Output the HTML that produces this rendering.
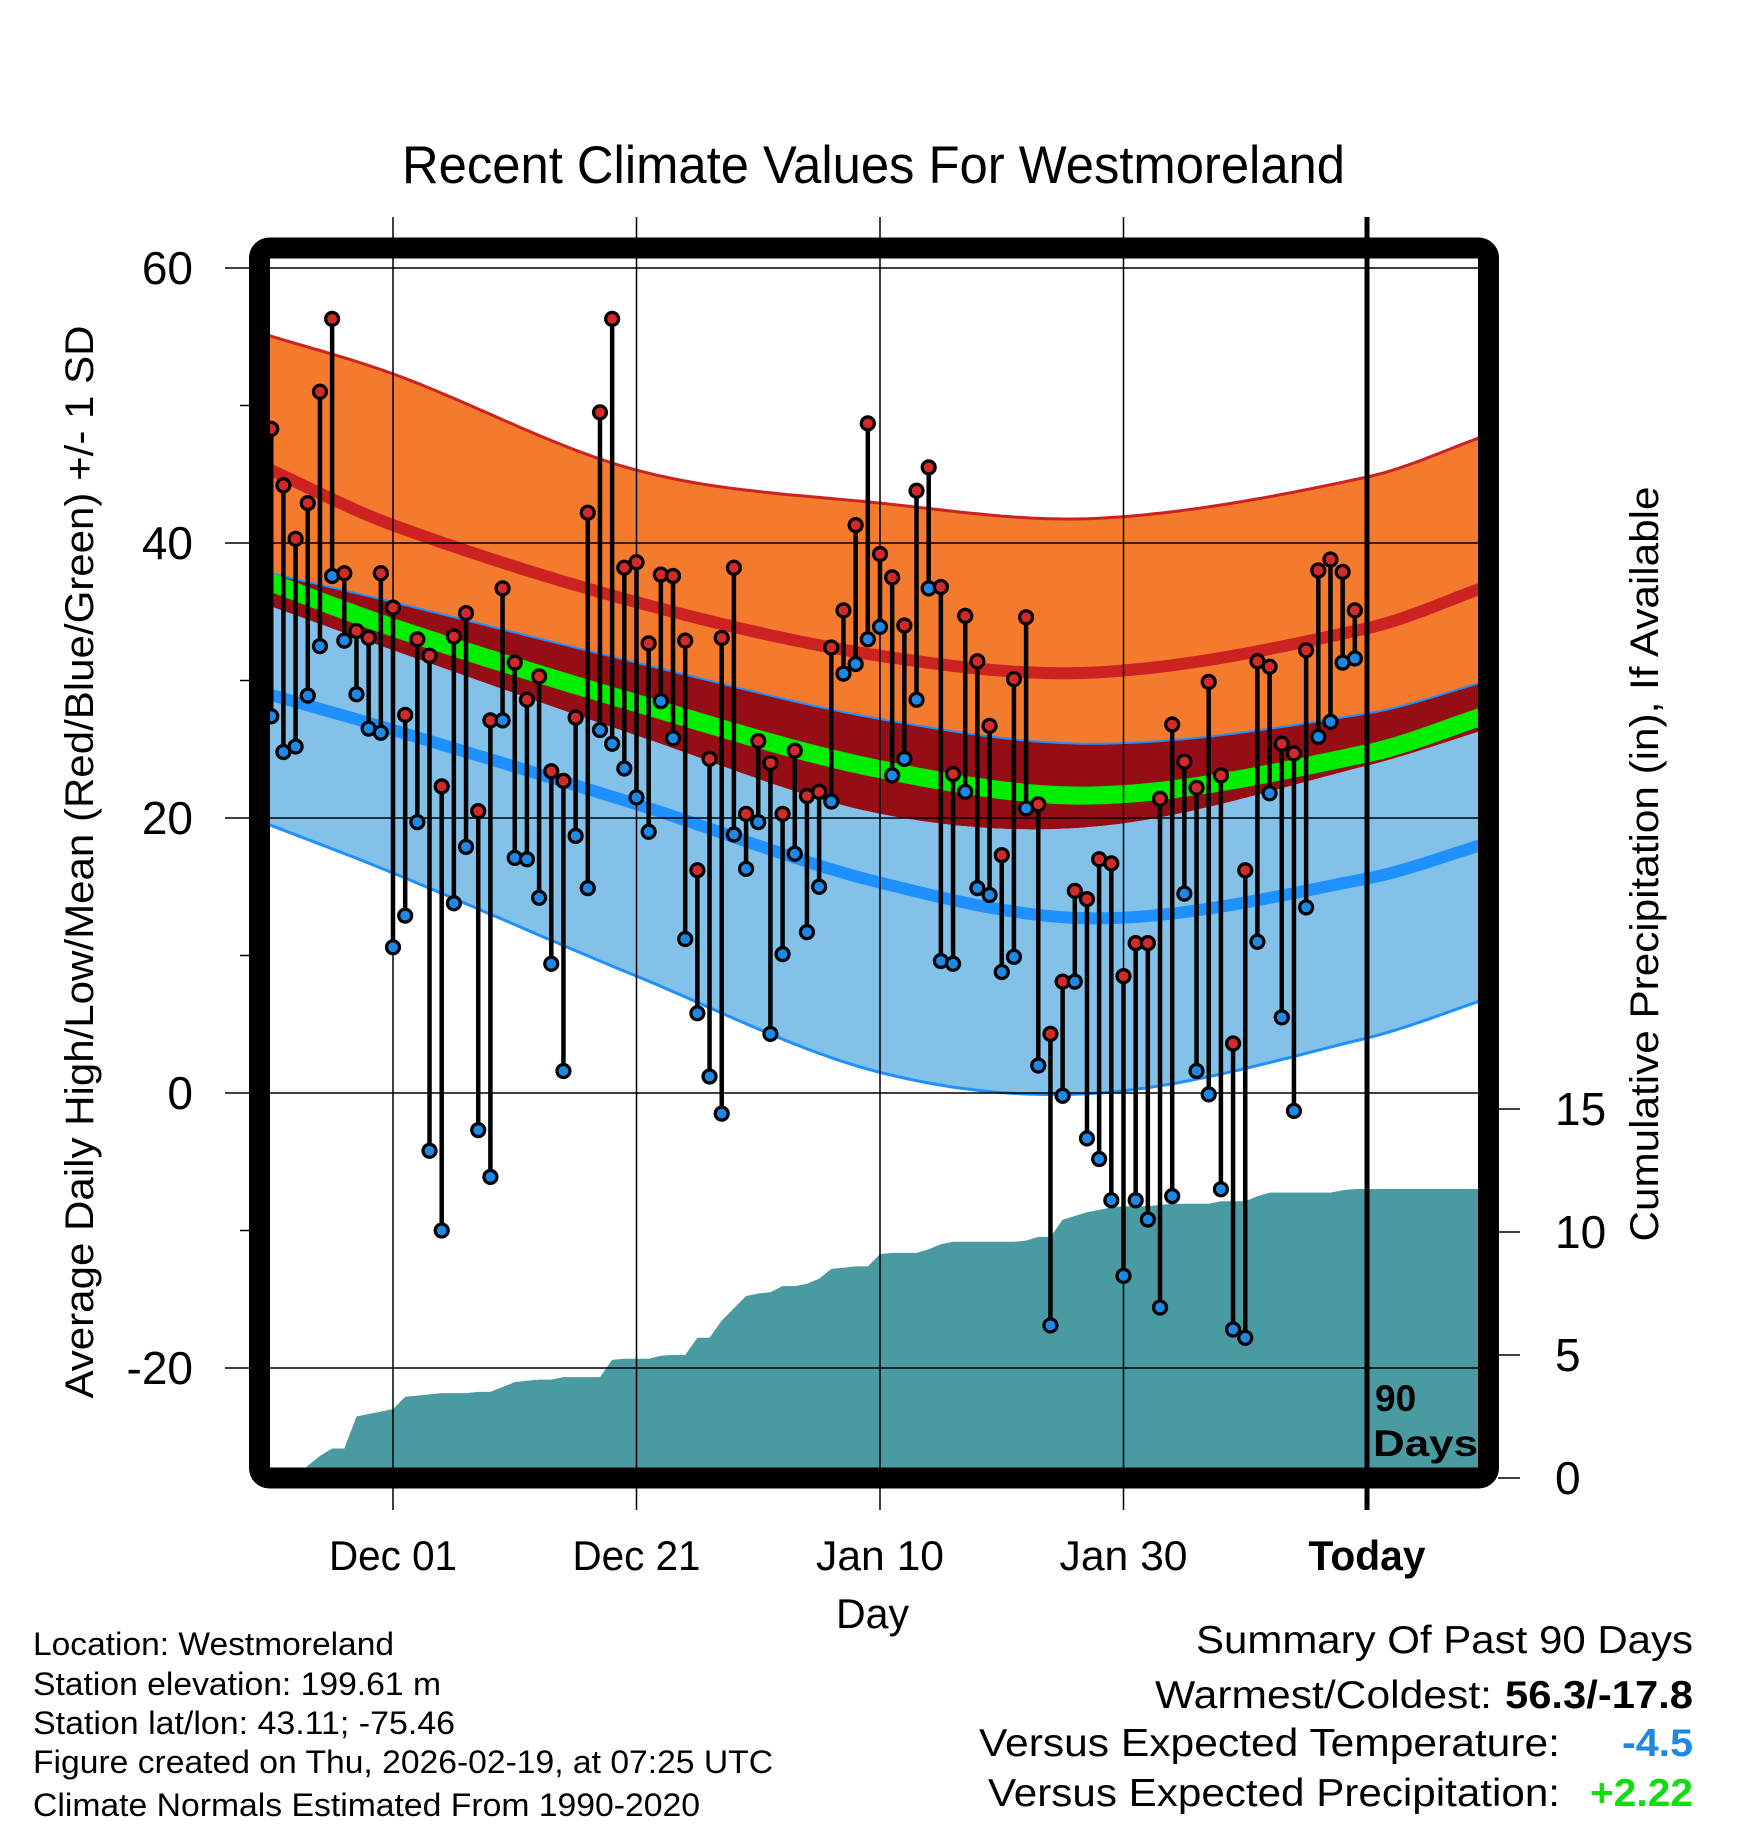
<!DOCTYPE html>
<html><head><meta charset="utf-8"><style>
html,body{margin:0;padding:0;background:#fff;}
svg{display:block;font-family:"Liberation Sans",Arial,sans-serif;}
</style></head><body>
<svg id="chart" width="1748" height="1828" viewBox="0 0 1748 1828" xmlns="http://www.w3.org/2000/svg">
<defs><clipPath id="plotclip"><rect x="270" y="260" width="1208" height="1208"/></clipPath></defs>
<rect width="1748" height="1828" fill="#fff"/>
<text x="402" y="183" font-size="53" textLength="943" lengthAdjust="spacingAndGlyphs">Recent Climate Values For Westmoreland</text>
<g id="bands" clip-path="url(#plotclip)"></g>
<g id="precip" clip-path="url(#plotclip)"></g>
<g id="grid"></g>
<g id="series" clip-path="url(#plotclip)"></g>
<rect x="259.5" y="248" width="1229" height="1230" rx="10" fill="none" stroke="#000" stroke-width="21"/>
<g id="axes"></g>
<text transform="translate(93,862) rotate(-90)" text-anchor="middle" font-size="40" textLength="1073" lengthAdjust="spacingAndGlyphs">Average Daily High/Low/Mean (Red/Blue/Green) +/- 1 SD</text>
<text transform="translate(1658,864) rotate(-90)" text-anchor="middle" font-size="40" textLength="755" lengthAdjust="spacingAndGlyphs">Cumulative Precipitation (in), If Available</text>
<text x="836" y="1628" font-size="42" textLength="73" lengthAdjust="spacingAndGlyphs">Day</text>
<text x="1375" y="1411" font-size="37" font-weight="bold">90</text>
<text x="1373" y="1456" font-size="37" font-weight="bold" textLength="105" lengthAdjust="spacingAndGlyphs">Days</text>
<g font-size="32">
<text x="33" y="1655" textLength="361" lengthAdjust="spacingAndGlyphs">Location: Westmoreland</text>
<text x="33" y="1695" textLength="408" lengthAdjust="spacingAndGlyphs">Station elevation: 199.61 m</text>
<text x="33" y="1734" textLength="422" lengthAdjust="spacingAndGlyphs">Station lat/lon: 43.11; -75.46</text>
<text x="33" y="1773" textLength="740" lengthAdjust="spacingAndGlyphs">Figure created on Thu, 2026-02-19, at 07:25 UTC</text>
<text x="33" y="1816" textLength="667" lengthAdjust="spacingAndGlyphs">Climate Normals Estimated From 1990-2020</text>
</g>
<g font-size="39">
<text x="1196" y="1653" textLength="497" lengthAdjust="spacingAndGlyphs">Summary Of Past 90 Days</text>
<text x="1155" y="1708" textLength="337" lengthAdjust="spacingAndGlyphs">Warmest/Coldest:</text>
<text x="1505" y="1708" font-weight="bold" textLength="188" lengthAdjust="spacingAndGlyphs">56.3/-17.8</text>
<text x="979" y="1756" textLength="581" lengthAdjust="spacingAndGlyphs">Versus Expected Temperature:</text>
<text x="1622" y="1756" font-weight="bold" fill="#1e88e5" textLength="71" lengthAdjust="spacingAndGlyphs">-4.5</text>
<text x="988" y="1806" textLength="572" lengthAdjust="spacingAndGlyphs">Versus Expected Precipitation:</text>
<text x="1590" y="1806" font-weight="bold" fill="#11dd11" textLength="103" lengthAdjust="spacingAndGlyphs">+2.22</text>
</g>
</svg>
<script>
// ---- data ----
const highs = [48.3,44.2,40.3,42.9,51.0,56.3,37.8,33.6,33.1,37.8,
35.3,27.5,33.0,31.8,22.3,33.2,34.9,20.5,27.1,36.7,
31.3,28.6,30.3,23.4,22.7,27.3,42.2,49.5,56.3,38.2,
38.6,32.7,37.7,37.6,32.9,16.2,24.3,33.1,38.2,20.3,
25.6,24.0,20.3,24.9,21.6,21.9,32.4,35.1,41.3,48.7,
39.2,37.5,34.0,43.8,45.5,36.8,23.2,34.7,31.4,26.7,
17.3,30.1,34.6,21.0,4.3,8.1,14.7,14.1,17.0,16.7,
8.5,10.9,10.9,21.4,26.8,24.1,22.2,29.9,23.1,3.6,
16.2,31.4,31.0,25.4,24.7,32.2,38.0,38.8,37.9,35.1];
const lows = [27.4,24.8,25.2,28.9,32.5,37.6,32.9,29.0,26.5,26.2,
10.6,12.9,19.7,-4.2,-10.0,13.8,17.9,-2.7,-6.1,27.1,
17.1,17.0,14.2,9.4,1.6,18.7,14.9,26.4,25.4,23.6,
21.5,19.0,28.5,25.8,11.2,5.8,1.2,-1.5,18.8,16.3,
19.7,4.3,10.1,17.4,11.7,15.0,21.2,30.5,31.2,33.0,
33.9,23.1,24.3,28.6,36.7,9.6,9.4,21.9,14.9,14.4,
8.8,9.9,20.7,2.0,-16.9,-0.2,8.1,-3.3,-4.8,-7.8,
-13.3,-7.8,-9.2,-15.6,-7.5,14.5,1.6,-0.1,-7.0,-17.2,
-17.8,11.0,21.8,5.5,-1.3,13.5,25.9,27.0,31.3,31.6];
const precip = [0,0,0,0.5,0.9,1.2,1.2,2.5,2.6,2.7,
2.8,3.3,3.35,3.4,3.45,3.45,3.45,3.5,3.5,3.7,
3.9,3.95,4.0,4.0,4.1,4.1,4.1,4.1,4.8,4.85,
4.85,4.85,4.97,5.0,5.0,5.7,5.7,6.4,6.9,7.4,
7.5,7.55,7.8,7.8,7.9,8.1,8.5,8.55,8.6,8.6,
9.1,9.15,9.15,9.15,9.3,9.5,9.6,9.6,9.6,9.6,
9.6,9.6,9.65,9.8,9.8,10.5,10.65,10.8,10.9,11.0,
11.05,11.05,11.05,11.1,11.15,11.15,11.15,11.15,11.25,11.25,
11.25,11.45,11.6,11.6,11.6,11.6,11.6,11.6,11.7,11.75];
const normDays = [-91,-80,-60,-40,-22,0,10];
const hiPlus  = [55.3,52.3,45.3,42.9,41.8,44.8,47.9];
const hiMean  = [45.7,41.3,35.7,31.8,30.6,33.8,36.9];
const hiMinus = [38.0,35.7,31.3,27.2,25.4,27.6,30.0];
const loPlus  = [35.7,32.2,26.0,20.3,19.4,23.8,26.5];
const loMean  = [29.2,26.4,21.0,15.3,12.7,15.6,18.2];
const loMinus = [19.8,16.0,8.5,1.5,0.0,4.0,6.9];
const dateTicks = [-80,-60,-40,-20];
const dateLabels = ["Dec 01","Dec 21","Jan 10","Jan 30"];
const yTicks = [60,40,20,0,-20];
const yMinor = [50,30,10,-10];
const pTicks = [0,5,10,15];

// ---- scales ----
const NS="http://www.w3.org/2000/svg";
const xD = d => 1367 + d*12.175;
const yT = v => 1093 - 13.75*v;
const yP = v => 1478 - 24.6*v;
function el(tag, attrs, parent){const e=document.createElementNS(NS,tag);for(const k in attrs)e.setAttribute(k,attrs[k]);parent.appendChild(e);return e;}
function interp(xs, ys, x){
  let n=xs.length, i=0;
  if(x<=xs[0]) i=0; else if(x>=xs[n-1]) i=n-2; else {while(x>xs[i+1]) i++;}
  const tan=k=>{if(k===0)return (ys[1]-ys[0])/(xs[1]-xs[0]);if(k===n-1)return (ys[n-1]-ys[n-2])/(xs[n-1]-xs[n-2]);return (ys[k+1]-ys[k-1])/(xs[k+1]-xs[k-1]);};
  const h=xs[i+1]-xs[i], t=(x-xs[i])/h, t2=t*t, t3=t2*t;
  return (2*t3-3*t2+1)*ys[i]+(t3-2*t2+t)*h*tan(i)+(-2*t3+3*t2)*ys[i+1]+(t3-t2)*h*tan(i+1);
}
const sdays=[]; for(let d=-91; d<=10.001; d+=0.5) sdays.push(d);
function curvePts(arr){return sdays.map(d=>[xD(d), yT(interp(normDays,arr,d))]);}
function line(pts){return pts.map((p,i)=>(i?'L':'M')+p[0].toFixed(1)+','+p[1].toFixed(1)).join('');}
function band(a,b){const pa=curvePts(a), pb=curvePts(b).reverse();return line(pa)+pb.map(p=>'L'+p[0].toFixed(1)+','+p[1].toFixed(1)).join('')+'Z';}

// ---- bands ----
const bands=document.getElementById('bands');
let e;
e=el('path',{d:band(hiPlus,hiMinus),fill:'#f47a2e'},bands);


e=el('path',{d:band(hiMinus,loPlus),fill:'#950e15'},bands);


e=el('path',{d:band(loPlus,loMinus),fill:'#83c1e8'},bands);


e=el('path',{d:line(curvePts(hiPlus)),fill:'none',stroke:'#cc2222','stroke-width':3},bands);


e=el('path',{d:line(curvePts(hiMinus)),fill:'none',stroke:'#1e90ff','stroke-width':2},bands);


e=el('path',{d:line(curvePts(loMinus)),fill:'none',stroke:'#1e90ff','stroke-width':3},bands);


e=el('path',{d:line(curvePts(hiMean)),fill:'none',stroke:'#cc2222','stroke-width':12},bands);


e=el('path',{d:line(curvePts(loMean)),fill:'none',stroke:'#1e90ff','stroke-width':12},bands);


const meanArr = hiMean.map((h,i)=>(h+loMean[i])/2);
e=el('path',{d:line(curvePts(meanArr)),fill:'none',stroke:'#00ee00','stroke-width':18},bands);



// ---- precip ----
const pg=document.getElementById('precip');
let pd='M'+xD(-90)+','+yP(0);
precip.forEach((v,i)=>{pd+='L'+xD(i-90).toFixed(1)+','+yP(v).toFixed(1);});
pd+='L'+xD(10)+','+yP(precip[precip.length-1]).toFixed(1)+'L'+xD(10)+',1480L'+xD(-91)+',1480Z';
e=el('path',{d:pd,fill:'#4a9aa2'},pg);



// ---- grid & axes ----
const grid=document.getElementById('grid'), axes=document.getElementById('axes');
yTicks.forEach(v=>{
  e=el('line',{x1:225,x2:1478,y1:yT(v),y2:yT(v),stroke:'#000','stroke-width':1.5},grid);
  
  
  e=el('text',{x:193,y:yT(v)+16,'font-size':46,'text-anchor':'end'},axes);
  e.textContent=v;
  
  
});
yMinor.forEach(v=>{
  e=el('line',{x1:240,x2:250,y1:yT(v),y2:yT(v),stroke:'#000','stroke-width':1.5},axes);
  
  
});
dateTicks.forEach((d,i)=>{
  e=el('line',{x1:xD(d),x2:xD(d),y1:217,y2:1510,stroke:'#000','stroke-width':1.5},grid);
  
  
  e=el('text',{x:xD(d),y:1570,'font-size':42,'text-anchor':'middle',textLength:128,lengthAdjust:'spacingAndGlyphs'},axes);
  e.textContent=dateLabels[i];
  
  
});
pTicks.forEach(v=>{
  e=el('line',{x1:1498,x2:1520,y1:yP(v),y2:yP(v),stroke:'#000','stroke-width':1.5},axes);
  
  
  e=el('text',{x:1555,y:yP(v)+16,'font-size':46},axes);
  e.textContent=v;
  
  
});
e=el('line',{x1:xD(0),x2:xD(0),y1:217,y2:1510,stroke:'#000','stroke-width':5},axes);


e=el('text',{x:xD(0),y:1570,'font-size':42,'font-weight':'bold','text-anchor':'middle',textLength:117,lengthAdjust:'spacingAndGlyphs'},axes);
e.textContent='Today';



// ---- series ----
const sg=document.getElementById('series');
highs.forEach((h,i)=>{
  const x=xD(i-90);
  e=el('line',{x1:x,x2:x,y1:yT(h),y2:yT(lows[i]),stroke:'#000','stroke-width':4.5},sg);
  
  
});
highs.forEach((h,i)=>{
  const x=xD(i-90);
  e=el('circle',{cx:x,cy:yT(lows[i]),r:6.5,fill:'#1e88e5',stroke:'#000','stroke-width':3.2},sg);
  
  
  e=el('circle',{cx:x,cy:yT(h),r:6.5,fill:'#d22a2a',stroke:'#000','stroke-width':3.2},sg);
  
  
});
</script>
</body></html>
